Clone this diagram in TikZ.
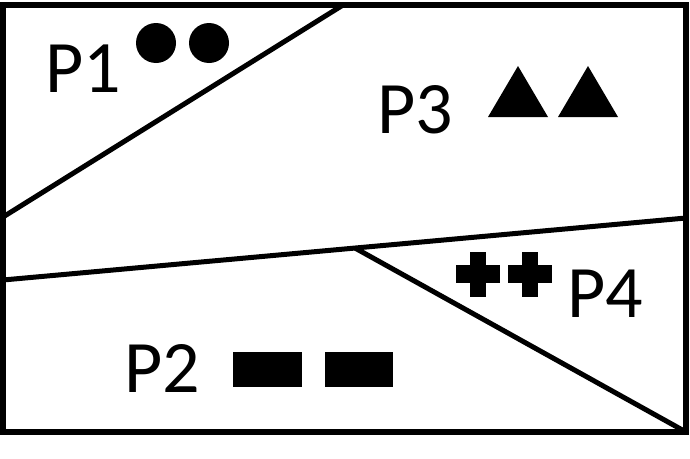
\documentclass[tikz,border=0pt]{standalone}
\usepackage{fontspec}
\setmainfont{Carlito}
\begin{document}
\begin{tikzpicture}[x=1pt,y=-1pt,
  frame/.style={line width=6pt},
  divider/.style={line width=5pt},
  label/.style={font=\fontsize{74}{80}\selectfont, inner sep=0pt, anchor=base},
  mark/.style={fill=black, draw=none}]
\useasboundingbox (0,0) rectangle (690,458);
% frame
\coordinate (tl) at (3,5);
\coordinate (br) at (686,432);
\draw[frame] (tl) rectangle (br);
% dividers
\coordinate (a1) at (3,217);
\coordinate (a2) at (343,5);
\coordinate (b1) at (3,280);
\coordinate (b2) at (686,218);
\coordinate (j) at (355,248);
\coordinate (c2) at (686,432);
\draw[divider] (a1) -- (a2);
\draw[divider] (b1) -- (b2);
\draw[divider] (j) -- (c2);
% labels
\node[label] (p1) at (83.5,92) {P1};
\node[label] (p3) at (415.5,133) {P3};
\node[label] (p4) at (605,317) {P4};
\node[label] (p2) at (162.5,392) {P2};
% circles
\fill (156,43) circle (20);
\fill (209,43) circle (20);
% triangles
\fill (488,117) -- (518,66) -- (548,117) -- cycle;
\fill (558,117) -- (588,66) -- (618,117) -- cycle;
% plus signs
\foreach \cx in {478,530} {
  \fill (\cx-22,265) rectangle (\cx+22,283);
  \fill (\cx-8,252) rectangle (\cx+8,297);
}
% rectangles
\fill (233,352) rectangle (302,387);
\fill (325,352) rectangle (393,387);
\end{tikzpicture}
\end{document}
